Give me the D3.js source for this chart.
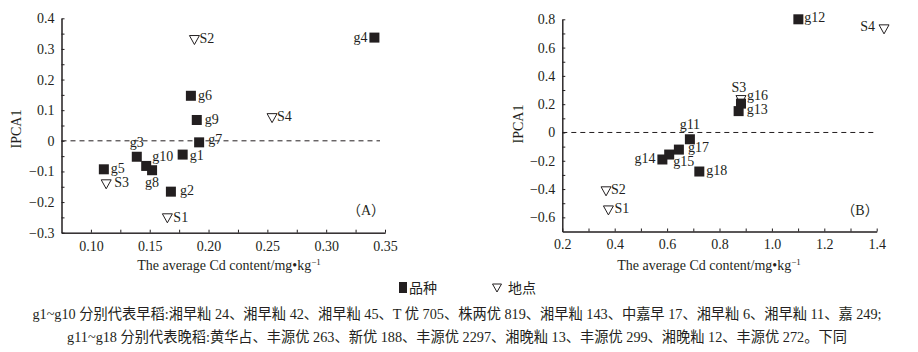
<!DOCTYPE html>
<html>
<head>
<meta charset="utf-8">
<script src="https://cdn.jsdelivr.net/npm/d3@7"></script>
<style>
body { margin: 0; background: #fff; }
svg text { font-family: "Liberation Serif", "Times New Roman", "Noto Sans CJK SC", serif; fill: #231f20; }
</style>
</head>
<body>
<svg id="chart" width="918" height="352"></svg>
<script>
// (A) early rice varieties
const namesA = ["g1", "g2", "g3", "g4", "g5", "g6", "g7", "g8", "g9", "g10"];
const cdA = [0.178, 0.168, 0.139, 0.341, 0.111, 0.185, 0.192, 0.152, 0.190, 0.147];
const ipcaA = [-0.045, -0.166, -0.052, 0.337, -0.093, 0.147, -0.005, -0.096, 0.068, -0.082];
const sitesA = ["S1", "S2", "S3", "S4"];
const siteCdA = [0.165, 0.188, 0.113, 0.254];
const siteIpcaA = [-0.253, 0.329, -0.142, 0.074];

const xTicksA = [0.10, 0.15, 0.20, 0.25, 0.30, 0.35];
const xTickLabelsA = ["0.10", "0.15", "0.20", "0.25", "0.30", "0.35"];
const xMinorA = [0.125, 0.175, 0.225, 0.275, 0.325];
const yTicksA = [-0.3, -0.2, -0.1, 0, 0.1, 0.2, 0.3, 0.4];
const yTickLabelsA = ["\u22120.3", "\u22120.2", "\u22120.1", "0", "0.1", "0.2", "0.3", "0.4"];
const yMinorA = [-0.25, -0.15, -0.05, 0.05, 0.15, 0.25, 0.35];

// (B) late rice varieties
const namesB = ["g11", "g12", "g13", "g14", "g15", "g16", "g17", "g18"];
const cdB = [0.687, 1.101, 0.873, 0.582, 0.608, 0.882, 0.645, 0.723];
const ipcaB = [-0.048, 0.800, 0.151, -0.191, -0.156, 0.204, -0.121, -0.276];
const sitesB = ["S1", "S2", "S3", "S4"];
const siteCdB = [0.376, 0.367, 0.882, 1.428];
const siteIpcaB = [-0.551, -0.416, 0.229, 0.729];

const xTicksB = [0.2, 0.4, 0.6, 0.8, 1.0, 1.2, 1.4];
const xTickLabelsB = ["0.2", "0.4", "0.6", "0.8", "1.0", "1.2", "1.4"];
const xMinorB = [0.3, 0.5, 0.7, 0.9, 1.1, 1.3];
const yTicksB = [-0.6, -0.4, -0.2, 0, 0.2, 0.4, 0.6, 0.8];
const yTickLabelsB = ["\u22120.6", "\u22120.4", "\u22120.2", "0", "0.2", "0.4", "0.6", "0.8"];
const yMinorB = [-0.5, -0.3, -0.1, 0.1, 0.3, 0.5, 0.7];

const xTitle = "The average Cd content/mg\u2022kg";
const yTitle = "IPCA1";
const legendNames = ["品种", "地点"];
const captionLines = [
  "g1~g10 分别代表早稻:湘早籼 24、湘早籼 42、湘早籼 45、T 优 705、株两优 819、湘早籼 143、中嘉早 17、湘早籼 6、湘早籼 11、嘉 249;",
  "g11~g18 分别代表晚稻:黄华占、丰源优 263、新优 188、丰源优 2297、湘晚籼 13、丰源优 299、湘晚籼 12、丰源优 272。下同"
];

// where each point label sits: [anchor, dx, dy]
const labelA = {
  g1: ["start", 7, 5], g2: ["start", 9, 3], g3: ["middle", 0, -10], g4: ["end", -7, 4],
  g5: ["start", 7, 4], g6: ["start", 7, 4], g7: ["start", 9, 2], g8: ["middle", 0, 17],
  g9: ["start", 8, 4], g10: ["start", 6, -5],
  S1: ["start", 6, 4], S2: ["start", 5, 3], S3: ["start", 8, 3], S4: ["start", 5, 3]
};
const labelB = {
  g11: ["middle", 0, -10], g12: ["start", 6, 3], g13: ["start", 8, 3], g14: ["end", -7, 4],
  g15: ["start", 4, 11], g16: ["start", 6, -4], g17: ["start", 9, 2], g18: ["start", 7, 3],
  S1: ["start", 6, 3], S2: ["start", 5, 3], S3: ["middle", -2, -8], S4: ["end", -9, 2]
};

const ink = "#231f20";
const svg = d3.select("#chart");

function styleAxis(sel) {
  sel.attr("font-family", null).attr("font-size", 14);
  sel.selectAll("line").attr("stroke", ink);
  sel.selectAll("path").attr("stroke", ink);
  sel.selectAll("text").attr("fill", ink);
}

function panel(p) {
  const x = d3.scaleLinear().domain(p.xDomain).range(p.xRange);
  const y = d3.scaleLinear().domain(p.yDomain).range(p.yRange);
  const g = svg.append("g");

  // zero reference line
  g.append("line")
    .attr("x1", p.xRange[0]).attr("x2", p.zeroEnd)
    .attr("y1", y(0)).attr("y2", y(0))
    .attr("stroke", ink).attr("stroke-dasharray", "5,4");

  g.append("g").attr("transform", `translate(0,${p.yRange[0]})`)
    .call(d3.axisBottom(x).tickValues(p.xTicks).tickFormat((d, i) => p.xTickLabels[i])
      .tickSize(-3).tickSizeOuter(0).tickPadding(8))
    .call(styleAxis);
  g.append("g").attr("transform", `translate(0,${p.yRange[0]})`)
    .call(d3.axisBottom(x).tickValues(p.xMinor).tickFormat("").tickSize(-3).tickSizeOuter(0))
    .call(styleAxis);

  g.append("g").attr("transform", `translate(${p.xRange[0]},0)`)
    .call(d3.axisLeft(y).tickValues(p.yTicks).tickFormat((d, i) => p.yTickLabels[i])
      .tickSize(-3).tickSizeOuter(0).tickPadding(7))
    .call(styleAxis);
  g.append("g").attr("transform", `translate(${p.xRange[0]},0)`)
    .call(d3.axisLeft(y).tickValues(p.yMinor).tickFormat("").tickSize(-3).tickSizeOuter(0))
    .call(styleAxis);

  // varieties: filled squares
  g.selectAll(".var")
    .data(p.names.map((n, i) => ({ n, cx: p.cd[i], cy: p.ipca[i] })))
    .enter().append("rect")
    .attr("x", d => x(d.cx) - 5).attr("y", d => y(d.cy) - 5)
    .attr("width", 10).attr("height", 10)
    .attr("fill", ink);

  // sites: open down triangles
  g.selectAll(".site")
    .data(p.sites.map((n, i) => ({ n, cx: p.siteCd[i], cy: p.siteIpca[i] })))
    .enter().append("path")
    .attr("d", "M-5,-4.5L5,-4.5L0,4.5Z")
    .attr("transform", d => `translate(${x(d.cx)},${y(d.cy)})`)
    .attr("fill", "none").attr("stroke", ink).attr("stroke-width", 1);

  const all = p.names.map((n, i) => ({ n, cx: p.cd[i], cy: p.ipca[i] }))
    .concat(p.sites.map((n, i) => ({ n, cx: p.siteCd[i], cy: p.siteIpca[i] })));
  g.selectAll(".lab").data(all).enter().append("text")
    .attr("x", d => x(d.cx) + p.labels[d.n][1])
    .attr("y", d => y(d.cy) + p.labels[d.n][2])
    .attr("text-anchor", d => p.labels[d.n][0])
    .attr("font-size", 14)
    .text(d => d.n);

  // panel tag
  g.append("text").attr("x", p.tag[0]).attr("y", p.tag[1])
    .attr("text-anchor", "middle").attr("font-size", 14)
    .text(p.tagText);

  // axis titles
  const xt = g.append("text").attr("x", p.xTitlePos[0]).attr("y", p.xTitlePos[1])
    .attr("text-anchor", "middle").attr("font-size", 14);
  xt.append("tspan").text(xTitle);
  xt.append("tspan").attr("font-size", 9).attr("dy", -5).text("\u22121");

  g.append("text")
    .attr("transform", `translate(${p.yTitlePos[0]},${p.yTitlePos[1]}) rotate(-90)`)
    .attr("text-anchor", "middle").attr("dy", "0.35em").attr("font-size", 14)
    .text(yTitle);
}

panel({
  names: namesA, cd: cdA, ipca: ipcaA, sites: sitesA, siteCd: siteCdA, siteIpca: siteIpcaA,
  xDomain: [0.075, 0.35], xRange: [61.5, 385], yDomain: [-0.3, 0.4], yRange: [232.7, 18.3],
  xTicks: xTicksA, xTickLabels: xTickLabelsA, xMinor: xMinorA,
  yTicks: yTicksA, yTickLabels: yTickLabelsA, yMinor: yMinorA,
  zeroEnd: 380, labels: labelA, tag: [366, 215], tagText: "（A）",
  xTitlePos: [229, 270], yTitlePos: [16, 129]
});

panel({
  names: namesB, cd: cdB, ipca: ipcaB, sites: sitesB, siteCd: siteCdB, siteIpca: siteIpcaB,
  xDomain: [0.2, 1.4], xRange: [562.3, 876.7], yDomain: [-0.7, 0.8], yRange: [231.5, 19.3],
  xTicks: xTicksB, xTickLabels: xTickLabelsB, xMinor: xMinorB,
  yTicks: yTicksB, yTickLabels: yTickLabelsB, yMinor: yMinorB,
  zeroEnd: 875, labels: labelB, tag: [860, 215], tagText: "（B）",
  xTitlePos: [709, 270], yTitlePos: [518, 124]
});

// legend
const leg = svg.append("g");
leg.append("rect").attr("x", 399).attr("y", 282).attr("width", 8).attr("height", 11).attr("fill", ink);
leg.append("text").attr("x", 409).attr("y", 293).attr("font-size", 14).text(legendNames[0]);
leg.append("path").attr("d", "M-4.5,-4L4.5,-4L0,4Z").attr("transform", "translate(497,288)")
  .attr("fill", "none").attr("stroke", ink);
leg.append("text").attr("x", 508).attr("y", 293).attr("font-size", 14).text(legendNames[1]);

// caption, sized so the first line spans the same width as the original
const cap = svg.append("g");
const lines = cap.selectAll("text").data(captionLines).enter().append("text")
  .attr("x", 457).attr("y", (d, i) => 319 + i * 23)
  .attr("text-anchor", "middle").attr("font-size", 14)
  .text(d => d);
const w0 = lines.nodes()[0].getComputedTextLength();
lines.attr("font-size", 14 * 850 / w0);
</script>
</body>
</html>
